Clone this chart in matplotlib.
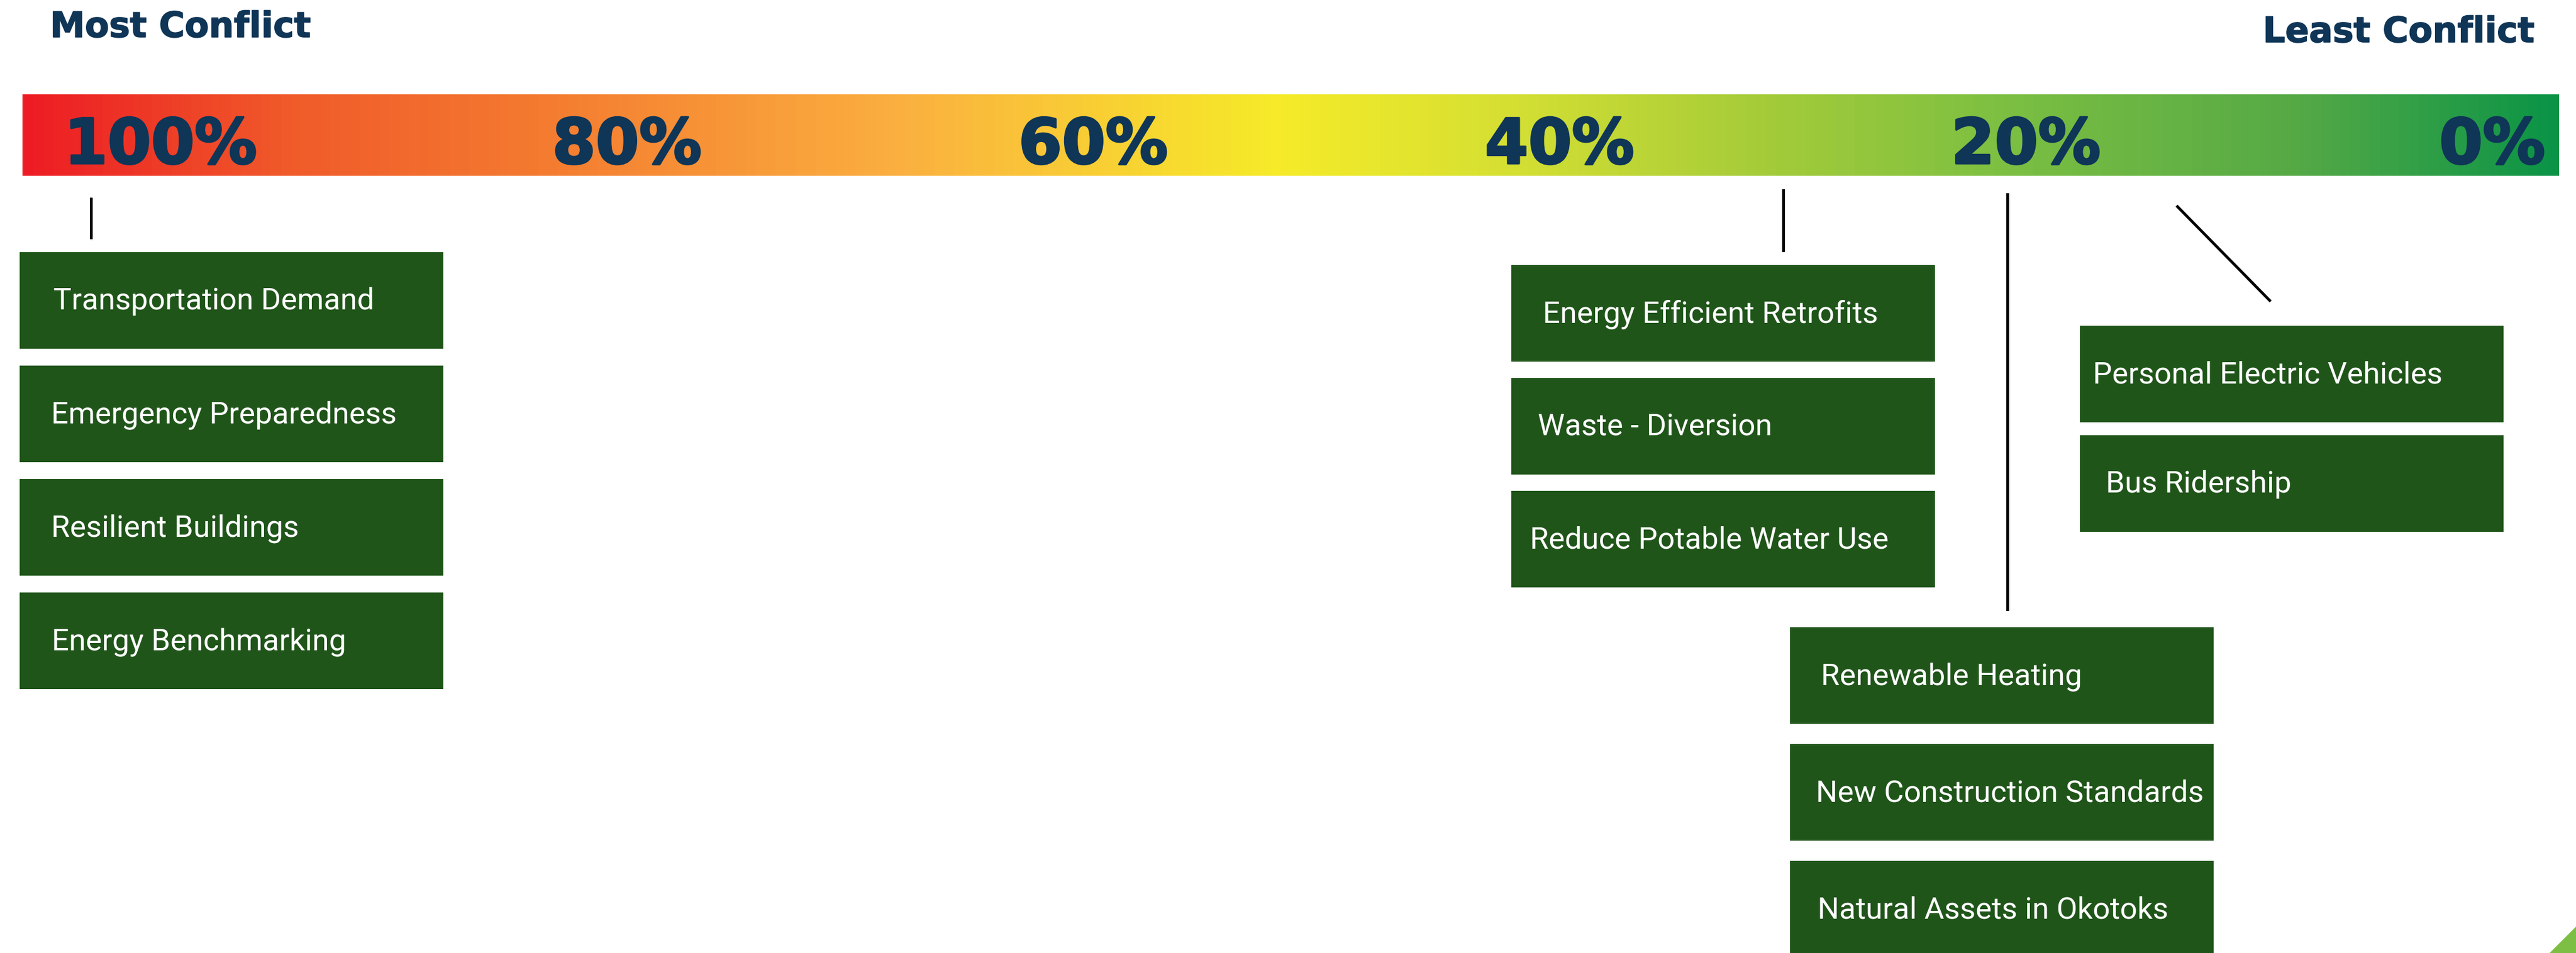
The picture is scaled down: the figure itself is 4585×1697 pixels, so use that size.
import matplotlib.pyplot as plt
import matplotlib.patheffects as pe
import numpy as np
from matplotlib.colors import LinearSegmentedColormap
from matplotlib.patches import Rectangle, Polygon

# Conflict scale along the coloured bar
tick_values = [100, 80, 60, 40, 20, 0]
tick_labels = ["100%", "80%", "60%", "40%", "20%", "0%"]

# Where each group of actions sits on the scale (% conflict)
group_values = [103, 30.4, 20.8, 13.5]

group1_items = ["Transportation Demand", "Emergency Preparedness",
                "Resilient Buildings", "Energy Benchmarking"]
group2_items = ["Energy Efficient Retrofits", "Waste - Diversion",
                "Reduce Potable Water Use"]
group3_items = ["Renewable Heating", "New Construction Standards",
                "Natural Assets in Okotoks"]
group4_items = ["Personal Electric Vehicles", "Bus Ridership"]

groups = [group1_items, group2_items, group3_items, group4_items]

# Canvas in pixels
W, H = 4585, 1697
PX = 41.5        # pixels per percentage point
X100 = 286       # pixel where 100% sits

NAVY = "#0f3557"
BOX_GREEN = "#20551a"


def shift(v, dpx):
    # move a scale value dpx pixels to the right (axis runs 100 -> 0)
    return v - dpx / PX


fig = plt.figure(figsize=(W / 100, H / 100), dpi=100)
fig.patch.set_facecolor("white")
ax = fig.add_axes([0, 0, 1, 1])

# Gradient bar, red (most conflict) to green (least conflict)
stops_px = [40, 500, 960, 1600, 2275, 2700, 3130, 3580, 4100, 4555]
stops_col = ["#ed1c24", "#f05a2a", "#f47b30", "#fbb040", "#f6eb29",
             "#d4df33", "#a6cc39", "#7cbf42", "#55a946", "#0b9447"]
pos = [(p - stops_px[0]) / (stops_px[-1] - stops_px[0]) for p in stops_px]
cmap = LinearSegmentedColormap.from_list("conflict", list(zip(pos, stops_col)))
grad = np.linspace(0, 1, 1200).reshape(1, -1)
bar_left = shift(100, -246)
bar_right = shift(0, 119)
ax.imshow(grad, cmap=cmap, aspect="auto", interpolation="bilinear",
          extent=(bar_left, bar_right, 313, 168), zorder=1)

heavy = [pe.withStroke(linewidth=2.6, foreground=NAVY)]
for v, lab in zip(tick_values, tick_labels):
    ax.text(v, 291, lab, ha="center", va="baseline", fontsize=80,
            fontweight="bold", family="DejaVu Sans", color=NAVY, zorder=3,
            path_effects=heavy)

# Layout of each group: box offset from the leader, first box top, step
box_dx = [-127, -484, -387, -174]
first_top = [449, 472, 1117, 580]
step = [202, 201, 208, 195]
text_pad = [[60, 56, 56, 57], [56, 47, 33], [55, 46, 49], [23, 46]]
BOX_W, BOX_H = 754, 172

for g, items in enumerate(groups):
    v = group_values[g]
    for i, name in enumerate(items):
        top = first_top[g] + i * step[g]
        x0 = shift(v, box_dx[g])
        ax.add_patch(Rectangle((x0, top), -BOX_W / PX, BOX_H,
                               facecolor=BOX_GREEN, edgecolor="none", zorder=2))
        ax.text(shift(x0, text_pad[g][i]), top + BOX_H / 2 + 2, name,
                ha="left", va="center", fontsize=39, family="Roboto",
                color="white", zorder=3)

# Leader lines from each group up to the bar
lw = 3.6
ax.plot([group_values[0]] * 2, [354, 423], color="black", lw=lw)
ax.plot([group_values[1]] * 2, [339, 446], color="black", lw=lw)
ax.plot([group_values[2]] * 2, [346, 1085], color="black", lw=lw)
ax.plot([group_values[3], shift(group_values[3], 164)], [368, 535],
        color="black", lw=lw)

ax.set_xlim(shift(100, -X100), shift(100, W - X100))
ax.set_ylim(H, 0)
ax.axis("off")

# Headings at either end of the scale
head = [pe.withStroke(linewidth=1.2, foreground=NAVY)]
fig.text(89 / W, 1 - 66 / H, "Most Conflict", ha="left", va="baseline",
         fontsize=45, fontweight="bold", family="DejaVu Sans", color=NAVY,
         path_effects=head)
fig.text(4511 / W, 1 - 75 / H, "Least Conflict", ha="right", va="baseline",
         fontsize=45, fontweight="bold", family="DejaVu Sans", color=NAVY,
         path_effects=head)

# Small green corner accent
fig.add_artist(Polygon([(4538 / W, 0), (1, 0), (1, 47 / H)],
                       closed=True, transform=fig.transFigure,
                       facecolor="#7dbf45", edgecolor="none"))

fig.savefig("out.png", dpi=100, facecolor="white")
